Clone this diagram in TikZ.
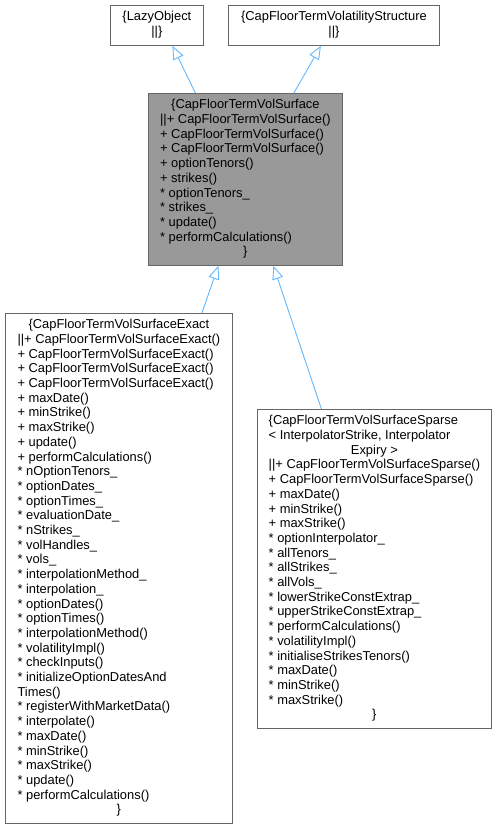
\documentclass[tikz,border=0pt]{standalone}
\usepackage{fontspec}
\setmainfont{Liberation Sans}
\usetikzlibrary{arrows.meta}
\definecolor{boxborder}{HTML}{666666}
\definecolor{focusfill}{HTML}{999999}
\definecolor{inheritcol}{HTML}{63B8FF}

\begin{document}
\begin{tikzpicture}[x=1pt, y=-1pt,
  cls/.style={draw=boxborder, line width=0.8pt, fill=white, inner sep=0pt,
              anchor=north west, font=\fontsize{12.9}{14.7}\selectfont},
  focus/.style={cls, fill=focusfill},
  inherit/.style={{Triangle[open, length=13.5pt, width=11pt]}-, line width=0.9pt,
                  color=inheritcol}
]
  \useasboundingbox (0,0) rectangle (495,828);

  % base classes
  \node[cls, minimum width=93pt, minimum height=40pt] (lazy) at (110,5)
    {\begin{tabular}{@{}c@{}}\{LazyObject\\ \textbar\textbar\}\end{tabular}};
  \node[cls, minimum width=211pt, minimum height=40pt] (termvol) at (228,5)
    {\begin{tabular}{@{}c@{}}\{CapFloorTermVolatilityStructure\\ \textbar\textbar\}\end{tabular}};

  % the documented class
  \node[focus, minimum width=194pt, minimum height=172pt] (surf) at (148,93)
    {\begin{tabular}{@{}l@{}}
      \multicolumn{1}{@{}c@{}}{\{CapFloorTermVolSurface}\\
      \textbar\textbar+ CapFloorTermVolSurface()\\
      + CapFloorTermVolSurface()\\
      + CapFloorTermVolSurface()\\
      + optionTenors()\\
      + strikes()\\
      {*} optionTenors\_\\
      {*} strikes\_\\
      {*} update()\\
      {*} performCalculations()\\
      \multicolumn{1}{@{}c@{}}{\}}
    \end{tabular}};

  % derived classes
  \node[cls, minimum width=227pt, minimum height=510pt] (exact) at (5,313)
    {\begin{tabular}{@{}l@{}}
      \multicolumn{1}{@{}c@{}}{\{CapFloorTermVolSurfaceExact}\\
      \textbar\textbar+ CapFloorTermVolSurfaceExact()\\
      + CapFloorTermVolSurfaceExact()\\
      + CapFloorTermVolSurfaceExact()\\
      + CapFloorTermVolSurfaceExact()\\
      + maxDate()\\
      + minStrike()\\
      + maxStrike()\\
      + update()\\
      + performCalculations()\\
      {*} nOptionTenors\_\\
      {*} optionDates\_\\
      {*} optionTimes\_\\
      {*} evaluationDate\_\\
      {*} nStrikes\_\\
      {*} volHandles\_\\
      {*} vols\_\\
      {*} interpolationMethod\_\\
      {*} interpolation\_\\
      {*} optionDates()\\
      {*} optionTimes()\\
      {*} interpolationMethod()\\
      {*} volatilityImpl()\\
      {*} checkInputs()\\
      {*} initializeOptionDatesAnd\\
      Times()\\
      {*} registerWithMarketData()\\
      {*} interpolate()\\
      {*} maxDate()\\
      {*} minStrike()\\
      {*} maxStrike()\\
      {*} update()\\
      {*} performCalculations()\\
      \multicolumn{1}{@{}c@{}}{\}}
    \end{tabular}};
  \node[cls, minimum width=234pt, minimum height=319pt] (sparse) at (257,409)
    {\begin{tabular}{@{}l@{}}
      \{CapFloorTermVolSurfaceSparse\\
      < InterpolatorStrike, Interpolator\\
      \multicolumn{1}{@{}c@{}}{Expiry >}\\
      \textbar\textbar+ CapFloorTermVolSurfaceSparse()\\
      + CapFloorTermVolSurfaceSparse()\\
      + maxDate()\\
      + minStrike()\\
      + maxStrike()\\
      {*} optionInterpolator\_\\
      {*} allTenors\_\\
      {*} allStrikes\_\\
      {*} allVols\_\\
      {*} lowerStrikeConstExtrap\_\\
      {*} upperStrikeConstExtrap\_\\
      {*} performCalculations()\\
      {*} volatilityImpl()\\
      {*} initialiseStrikesTenors()\\
      {*} maxDate()\\
      {*} minStrike()\\
      {*} maxStrike()\\
      \multicolumn{1}{@{}c@{}}{\}}
    \end{tabular}};

  % inheritance
  \draw[inherit] ([xshift=15.5pt]lazy.south) -- ([xshift=-50pt]surf.north);
  \draw[inherit] ([xshift=-13pt]termvol.south) -- ([xshift=48.5pt]surf.north);
  \draw[inherit] ([xshift=-27pt]surf.south) -- ([xshift=83pt]exact.north);
  \draw[inherit] ([xshift=28pt]surf.south) -- ([xshift=-53pt]sparse.north);
\end{tikzpicture}
\end{document}
